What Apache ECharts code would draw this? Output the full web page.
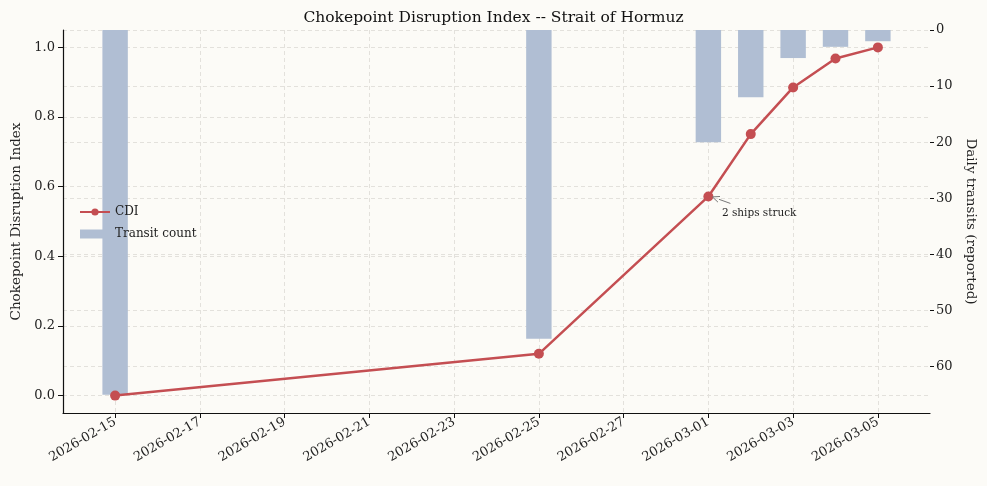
<!DOCTYPE html>
<html>
<head>
<meta charset="utf-8">
<script src="https://cdn.jsdelivr.net/npm/echarts@6/dist/echarts.min.js"></script>
<style>
html,body{margin:0;padding:0;background:#fcfbf7;}
#c{width:987px;height:486px;}
</style>
</head>
<body>
<div id="c"></div>
<script>
// ---- data ----
var dates = ['2026-02-15','2026-02-25','2026-03-01','2026-03-02','2026-03-03','2026-03-04','2026-03-05'];
var cdiValues = [0.0, 0.12, 0.572, 0.751, 0.885, 0.968, 1.0];
var transitCounts = [65, 55, 20, 12, 5, 3, 2];
var xTickDates = ['2026-02-15','2026-02-17','2026-02-19','2026-02-21','2026-02-23','2026-02-25','2026-02-27','2026-03-01','2026-03-03','2026-03-05'];
var leftTicks = [0.0, 0.2, 0.4, 0.6, 0.8, 1.0];
var rightTickStep = 10;
var annotationText = '2 ships struck';
var annotationDate = '2026-03-01';

var FONT = 'DejaVu Serif';
var DAY = 86400000;
var origin = Date.UTC(2026,1,15);
function toDay(s){ var p=s.split('-'); return (Date.UTC(+p[0],+p[1]-1,+p[2]) - origin)/DAY; }
function fromDay(d){ var t=new Date(origin + Math.round(d)*DAY); var m=t.getUTCMonth()+1, dd=t.getUTCDate(); return t.getUTCFullYear()+'-'+(m<10?'0':'')+m+'-'+(dd<10?'0':'')+dd; }

var xs = dates.map(toDay);
var xTicks = xTickDates.map(toDay);
var cdiData = xs.map(function(x,i){return [x, cdiValues[i]];});
var barData = xs.map(function(x,i){return [x, transitCounts[i]];});
var barHalf = 0.3;
var span = (xs[xs.length-1]+barHalf)-(xs[0]-barHalf);
var xMin = xs[0] - barHalf - 0.05*span;
var xMax = xs[xs.length-1] + barHalf + 0.05*span;
var maxT = Math.max.apply(null, transitCounts);

var chart = echarts.init(document.getElementById('c'), null, {renderer:'canvas'});
var gridColor = '#e3e1dc';
var option = {
  backgroundColor:'#fcfbf7',
  animation:false,
  textStyle:{fontFamily:FONT},
  title:{text:'Chokepoint Disruption Index -- Strait of Hormuz', left:'center', top:5,
    textStyle:{fontFamily:FONT,fontSize:15.5,fontWeight:'normal',color:'#111'}},
  grid:{left:63, right:57, top:30, bottom:73, outerBoundsMode:'none', containLabel:false},
  legend:{
    orient:'vertical', left:74, top:201, itemWidth:30, itemHeight:9, itemGap:10,
    textStyle:{fontFamily:FONT,fontSize:12,color:'#222'},
    data:[{name:'CDI', itemStyle:{color:'#c44e52'}},{name:'Transit count', icon:'rect'}]
  },
  xAxis:{
    type:'value', min:xMin, max:xMax,
    axisLine:{show:true, onZero:false, lineStyle:{color:'#111', width:1.2}},
    axisTick:{show:true, length:5, lineStyle:{color:'#111'}, customValues:xTicks},
    axisLabel:{customValues:xTicks, rotate:30, fontFamily:FONT, fontSize:13, color:'#222', margin:8,
      formatter:function(v){return fromDay(v);}},
    splitLine:{show:true, lineStyle:{color:gridColor, type:[4,3], width:1}}
  },
  yAxis:[
    {type:'value', min:-0.05, max:1.05, position:'left',
     name:'Chokepoint Disruption Index', nameLocation:'middle', nameGap:39,
     nameTextStyle:{fontFamily:FONT,fontSize:13.5,color:'#222'},
     axisLine:{show:true, onZero:false, lineStyle:{color:'#111', width:1.2}},
     axisTick:{show:true, length:5, lineStyle:{color:'#111'}, customValues:leftTicks},
     axisLabel:{customValues:leftTicks, fontFamily:FONT, fontSize:13, color:'#222',
       formatter:function(v){return v.toFixed(1);}},
     splitLine:{show:true, lineStyle:{color:gridColor, type:[4,3], width:1}}
    },
    {type:'value', min:0, max:maxT*1.05, interval:rightTickStep, inverse:true, position:'right',
     name:'Daily transits (reported)', nameLocation:'middle', nameGap:33, nameRotate:-90,
     nameTextStyle:{fontFamily:FONT,fontSize:13.5,color:'#222'},
     axisLine:{show:false, onZero:false},
     axisTick:{show:true, length:4, lineStyle:{color:'#111'}},
     axisLabel:{fontFamily:FONT, fontSize:13, color:'#222', margin:6, showMaxLabel:false},
     splitLine:{show:true, lineStyle:{color:gridColor, type:[4,3], width:1}}
    }
  ],
  series:[
    {name:'Transit count', type:'custom', xAxisIndex:0, yAxisIndex:1, z:1,
     itemStyle:{color:'#b0bed3'},
     data:barData,
     renderItem:function(params, api){
       var x = api.value(0), v = api.value(1);
       var p0 = api.coord([x-barHalf, 0]);
       var p1 = api.coord([x+barHalf, v]);
       return {type:'rect', shape:{x:p0[0], y:Math.min(p0[1],p1[1]), width:p1[0]-p0[0], height:Math.abs(p1[1]-p0[1])},
         style:api.style({fill:'#b0bed3'})};
     }
    },
    {name:'CDI', type:'line', xAxisIndex:0, yAxisIndex:0, z:5,
     data:cdiData, symbol:'circle', symbolSize:10,
     lineStyle:{color:'#c44e52', width:2.5},
     itemStyle:{color:'#c44e52'}
    }
  ]
};
chart.setOption(option);

// annotation placed via the chart's own coordinate conversion
var ai = dates.indexOf(annotationDate);
var pt = chart.convertToPixel({xAxisIndex:0, yAxisIndex:0}, [xs[ai], cdiValues[ai]]);
var tx = pt[0] + 13.5, ty = pt[1] + 17;
var ax0 = pt[0] + 22, ay0 = pt[1] + 7;
var ax1 = pt[0] + 4, ay1 = pt[1] + 0.5;
var ang = Math.atan2(ay1 - ay0, ax1 - ax0);
var hl = 7, hw = 3;
var bx = ax1 - hl*Math.cos(ang), by = ay1 - hl*Math.sin(ang);
chart.setOption({graphic:[
  {type:'line', shape:{x1:ax0,y1:ay0,x2:bx,y2:by}, style:{stroke:'#777', lineWidth:1}, z:10},
  {type:'polyline', shape:{points:[[bx - hw*Math.sin(ang), by + hw*Math.cos(ang)],[ax1,ay1],[bx + hw*Math.sin(ang), by - hw*Math.cos(ang)]]},
   style:{stroke:'#777', lineWidth:1, fill:null}, z:10},
  {type:'text', x:tx, y:ty, style:{text:annotationText, fontFamily:FONT, fontSize:10.5, fill:'#222', textAlign:'left', textVerticalAlign:'middle'}, z:10}
]});
</script>
</body>
</html>
